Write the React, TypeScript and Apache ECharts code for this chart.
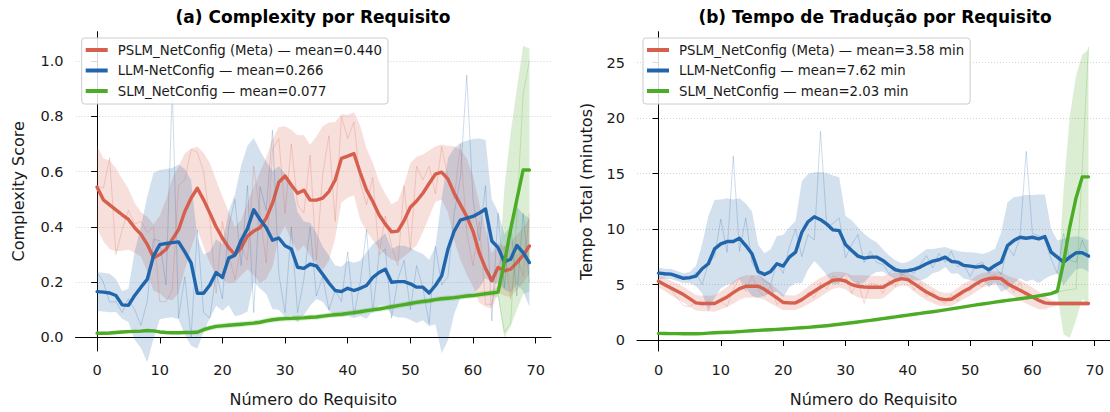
import React, { useEffect, useRef } from "react";
import * as echarts from "echarts";

// ---------- data ----------
const REQ_INDEX = [
  0, 1, 2, 3, 4, 5, 6, 7, 8, 9, 10, 11, 12, 13, 14, 15, 16, 17, 18, 19, 20, 21, 22, 23, 24, 25, 26, 27, 28, 29, 30, 31, 32, 33, 34,
  35, 36, 37, 38, 39, 40, 41, 42, 43, 44, 45, 46, 47, 48, 49, 50, 51, 52, 53, 54, 55, 56, 57, 58, 59, 60, 61, 62, 63, 64, 65, 66,
  67, 68, 69,
];
const X_TICKS = [0, 10, 20, 30, 40, 50, 60, 70];
const Y_TICKS_A = [0, 0.2, 0.4, 0.6, 0.8, 1.0];
const Y_TICKS_B = [0, 5, 10, 15, 20, 25];

const LEGEND_A = [
  "PSLM_NetConfig (Meta) — mean=0.440",
  "LLM-NetConfig — mean=0.266",
  "SLM_NetConfig — mean=0.077",
];
const LEGEND_B = [
  "PSLM_NetConfig (Meta) — mean=3.58 min",
  "LLM-NetConfig — mean=7.62 min",
  "SLM_NetConfig — mean=2.03 min",
];
const TITLE_A = "(a) Complexity por Requisito";
const TITLE_B = "(b) Tempo de Tradução por Requisito";
const XNAME = "Número do Requisito";
const YNAME_A = "Complexity Score";
const YNAME_B = "Tempo Total (minutos)";

// (a) Complexity — PSLM
const A_PSLM_RAW = [0.55,0.54,0.65,0.30,0.39,0.46,0.41,0.42,0.38,0.40,0.13,0.13,0.17,0.55,0.57,0.68,0.67,0.60,0.42,0.16,0.42,0.30,0.21,0.33,0.28,0.62,0.45,0.27,0.68,0.72,0.45,0.70,0.48,0.45,0.66,0.28,0.59,0.73,0.42,0.80,0.72,0.78,0.56,0.48,0.58,0.30,0.44,0.33,0.26,0.55,0.32,0.62,0.57,0.62,0.52,0.69,0.58,0.50,0.70,0.38,0.26,0.42,0.12,0.12,0.25,0.33,0.14,0.30,0.22,0.45];
const A_PSLM_MEAN = [0.544,0.498,0.48,0.462,0.444,0.427,0.397,0.373,0.337,0.289,0.30,0.319,0.355,0.39,0.456,0.504,0.54,0.498,0.45,0.40,0.36,0.325,0.30,0.325,0.367,0.385,0.397,0.432,0.486,0.562,0.584,0.552,0.522,0.533,0.497,0.497,0.504,0.528,0.57,0.648,0.656,0.665,0.596,0.534,0.492,0.444,0.41,0.382,0.385,0.423,0.471,0.494,0.522,0.557,0.591,0.598,0.573,0.522,0.48,0.438,0.384,0.306,0.25,0.205,0.253,0.241,0.247,0.271,0.297,0.331];
const A_PSLM_STD = [0.15,0.15,0.16,0.15,0.13,0.11,0.09,0.08,0.1,0.12,0.14,0.18,0.22,0.23,0.21,0.18,0.15,0.17,0.18,0.17,0.15,0.13,0.1,0.1,0.12,0.16,0.2,0.22,0.23,0.2,0.18,0.2,0.21,0.2,0.2,0.23,0.26,0.25,0.21,0.16,0.15,0.15,0.17,0.15,0.14,0.12,0.11,0.1,0.11,0.13,0.16,0.16,0.14,0.12,0.1,0.1,0.12,0.17,0.2,0.21,0.2,0.18,0.14,0.1,0.09,0.09,0.1,0.1,0.1,0.1];
// (a) Complexity — LLM
const A_LLM_RAW = [0.235,0.2,0.128,0.13,0.09,0.14,0.1,0.044,0.13,0.355,0.35,0.19,0.9,0.07,0.22,0.0,0.39,0.09,0.07,0.235,0.14,0.4,0.5,0.26,0.55,0.09,0.546,0.46,0.75,0.23,0.09,0.4,0.09,0.21,0.4,0.15,0.22,0.1,0.17,0.13,0.31,0.08,0.2,0.39,0.09,0.3,0.32,0.07,0.21,0.28,0.1,0.26,0.18,0.05,0.33,0.19,0.22,0.45,0.58,0.95,0.5,0.35,0.55,0.06,0.45,0.18,0.42,0.15,0.45,0.2];
const A_LLM_MEAN = [0.166,0.164,0.161,0.152,0.118,0.116,0.152,0.182,0.21,0.295,0.336,0.34,0.343,0.346,0.31,0.27,0.16,0.16,0.19,0.235,0.217,0.287,0.298,0.352,0.394,0.462,0.427,0.397,0.352,0.36,0.332,0.32,0.254,0.25,0.265,0.259,0.229,0.197,0.17,0.166,0.178,0.17,0.178,0.188,0.217,0.235,0.247,0.2,0.202,0.202,0.194,0.182,0.182,0.161,0.188,0.223,0.319,0.385,0.425,0.432,0.438,0.45,0.465,0.349,0.325,0.274,0.283,0.333,0.307,0.271];
const A_LLM_STD = [0.07,0.07,0.07,0.06,0.05,0.06,0.16,0.22,0.3,0.3,0.27,0.27,0.27,0.28,0.3,0.3,0.2,0.14,0.12,0.12,0.12,0.17,0.22,0.27,0.3,0.26,0.25,0.24,0.25,0.26,0.26,0.24,0.2,0.17,0.15,0.12,0.1,0.1,0.09,0.09,0.1,0.1,0.1,0.12,0.12,0.12,0.13,0.12,0.13,0.13,0.13,0.13,0.12,0.12,0.14,0.28,0.33,0.3,0.28,0.28,0.28,0.27,0.25,0.15,0.13,0.1,0.12,0.14,0.14,0.16];
// (a) Complexity — SLM
const A_SLM_RAW = [0.012,0.02,0.014,0.018,0.022,0.017,0.025,0.02,0.028,0.022,0.018,0.02,0.014,0.016,0.022,0.016,0.02,0.03,0.036,0.04,0.044,0.042,0.048,0.046,0.052,0.05,0.058,0.062,0.063,0.068,0.066,0.07,0.072,0.069,0.075,0.073,0.079,0.08,0.083,0.085,0.088,0.09,0.095,0.096,0.1,0.104,0.106,0.112,0.114,0.12,0.122,0.128,0.129,0.134,0.136,0.14,0.141,0.145,0.146,0.151,0.151,0.156,0.157,0.162,0.16,0.02,0.05,0.45,0.88,1.0];
const A_SLM_MEAN = [0.015,0.015,0.016,0.018,0.02,0.021,0.022,0.023,0.025,0.024,0.02,0.018,0.017,0.017,0.018,0.018,0.019,0.028,0.035,0.04,0.042,0.044,0.046,0.048,0.05,0.052,0.055,0.06,0.064,0.067,0.068,0.069,0.07,0.071,0.073,0.074,0.077,0.08,0.082,0.084,0.087,0.09,0.093,0.097,0.1,0.103,0.107,0.111,0.115,0.119,0.123,0.127,0.13,0.133,0.137,0.14,0.142,0.144,0.147,0.15,0.152,0.155,0.158,0.161,0.164,0.27,0.39,0.5,0.606,0.606];
const A_SLM_STD = [0.006,0.006,0.006,0.006,0.006,0.006,0.006,0.006,0.006,0.006,0.006,0.006,0.006,0.006,0.006,0.006,0.008,0.01,0.01,0.01,0.01,0.01,0.01,0.01,0.01,0.01,0.01,0.01,0.01,0.01,0.01,0.01,0.01,0.01,0.01,0.01,0.01,0.01,0.01,0.01,0.01,0.01,0.01,0.01,0.01,0.01,0.01,0.01,0.01,0.01,0.01,0.01,0.01,0.01,0.01,0.01,0.01,0.01,0.01,0.01,0.01,0.01,0.01,0.01,0.02,0.27,0.35,0.4,0.45,0.44];

// (b) Tempo — PSLM
const B_PSLM_RAW = [5.4,5.1,4.5,3.8,3.1,3.0,3.4,3.1,3.6,3.2,3.5,3.0,4.6,5.6,4.4,5.8,4.5,3.9,4.9,3.2,3.6,3.2,3.2,3.5,4.3,3.8,5.2,4.6,5.8,5.5,5.9,4.2,5.3,3.3,5.1,5.0,4.2,5.4,4.8,6.0,5.6,4.5,5.2,3.9,4.4,3.6,3.3,4.1,3.5,4.5,4.4,5.1,4.8,5.7,5.9,5.3,5.4,4.3,5.2,3.6,3.9,3.4,3.3,3.2,3.3,3.3,3.2,3.4,3.3,3.2];
const B_PSLM_MEAN = [5.29,4.99,4.69,4.39,4.09,3.73,3.35,3.29,3.29,3.29,3.58,3.88,4.27,4.63,4.84,4.84,4.84,4.57,4.18,3.79,3.38,3.35,3.35,3.64,4.03,4.39,4.75,5.08,5.38,5.44,5.32,4.99,4.84,4.78,4.75,4.75,4.75,5.08,5.38,5.53,5.44,5.08,4.69,4.33,4.03,3.73,3.64,3.67,4.03,4.39,4.69,5.08,5.38,5.53,5.59,5.53,5.08,4.78,4.48,4.18,3.88,3.58,3.35,3.29,3.29,3.29,3.29,3.29,3.29,3.29];
const B_PSLM_STD = [0.55,0.6,0.65,0.7,0.7,0.7,0.7,0.7,0.7,0.75,0.8,0.9,1.0,1.0,1.0,1.0,1.0,0.95,0.9,0.8,0.7,0.65,0.65,0.7,0.8,0.85,0.85,0.8,0.75,0.7,0.75,0.85,1.0,1.05,1.05,1.05,1.0,0.9,0.7,0.6,0.6,0.7,0.75,0.75,0.7,0.65,0.6,0.6,0.65,0.7,0.7,0.7,0.65,0.6,0.6,0.6,0.7,0.8,0.9,0.9,0.85,0.8,0.6,0.3,0.2,0.2,0.2,0.2,0.2,0.2];
// (b) Tempo — LLM
const B_LLM_RAW = [6.3,5.8,6.0,5.5,5.6,5.4,6.1,5.0,6.9,7.5,10.9,7.9,16.6,8.0,11.0,7.0,6.0,5.3,5.0,7.0,6.0,8.4,10.0,7.5,9.5,9.0,18.8,10.2,10.5,11.0,7.4,8.6,9.5,7.0,8.0,7.0,6.8,6.0,6.5,5.8,6.3,6.0,6.8,7.6,6.5,7.8,7.0,8.0,6.6,6.8,5.7,6.8,7.0,6.0,6.6,5.9,8.4,7.6,9.2,17.0,9.6,9.4,9.0,7.3,6.0,9.6,7.2,7.0,9.0,7.6];
const B_LLM_MEAN = [6.03,5.97,5.94,5.76,5.56,5.62,5.76,6.42,6.87,8.21,8.66,8.87,8.87,9.17,8.51,7.77,6.18,5.91,6.18,6.87,6.66,7.47,7.92,9.71,10.66,11.11,10.84,10.45,9.92,9.86,8.6,8.06,7.56,7.38,7.47,7.47,7.17,6.72,6.33,6.21,6.24,6.36,6.57,6.87,7.11,7.23,7.47,7.08,7.02,6.72,6.66,6.57,6.66,6.33,6.72,7.02,8.51,8.96,9.26,9.17,9.26,9.11,9.32,7.92,7.47,7.02,7.47,7.86,7.86,7.56];
const B_LLM_STD = [0.5,0.45,0.45,0.45,0.45,0.5,0.9,2.2,4.3,4.4,4.0,3.9,3.8,3.6,3.8,3.8,2.4,1.9,2.0,2.5,2.8,2.7,2.8,4.6,4.3,4.0,4.3,4.6,4.9,4.8,2.6,2.7,2.6,2.2,1.65,1.35,1.0,0.9,0.85,0.7,0.8,1.0,1.2,1.3,1.1,1.05,0.9,1.1,1.0,1.2,1.25,1.3,1.1,1.6,1.5,2.7,3.9,3.9,3.7,3.9,3.8,4.0,3.8,2.1,1.5,2.1,1.8,1.5,1.4,1.4];
// (b) Tempo — SLM
const B_SLM_RAW = [0.6,0.59,0.58,0.58,0.57,0.57,0.57,0.58,0.62,0.65,0.68,0.7,0.72,0.76,0.8,0.84,0.87,0.9,0.93,0.96,0.99,1.03,1.07,1.1,1.14,1.19,1.24,1.29,1.35,1.42,1.49,1.55,1.62,1.7,1.77,1.85,1.93,2.01,2.08,2.16,2.24,2.32,2.4,2.48,2.55,2.63,2.72,2.81,2.9,2.99,3.08,3.16,3.24,3.32,3.41,3.49,3.57,3.64,3.72,3.8,3.88,3.98,4.08,4.18,4.3,4.45,4.55,4.6,15.5,26.4];
const B_SLM_MEAN = [0.6,0.59,0.58,0.58,0.57,0.57,0.57,0.58,0.62,0.65,0.68,0.7,0.72,0.76,0.8,0.84,0.87,0.9,0.93,0.96,0.99,1.03,1.07,1.1,1.14,1.19,1.24,1.29,1.35,1.42,1.49,1.55,1.62,1.7,1.77,1.85,1.93,2.01,2.08,2.16,2.24,2.32,2.4,2.48,2.55,2.63,2.72,2.81,2.9,2.99,3.08,3.16,3.24,3.32,3.41,3.49,3.57,3.64,3.72,3.8,3.88,3.98,4.08,4.18,4.4,7.0,10.2,12.8,14.7,14.7];
const B_SLM_STD = [0.05,0.05,0.05,0.05,0.05,0.05,0.05,0.05,0.05,0.05,0.05,0.05,0.05,0.05,0.05,0.05,0.05,0.05,0.05,0.05,0.05,0.05,0.05,0.05,0.05,0.05,0.05,0.05,0.05,0.05,0.05,0.05,0.05,0.05,0.05,0.05,0.05,0.05,0.05,0.05,0.05,0.05,0.05,0.05,0.05,0.05,0.05,0.05,0.05,0.05,0.05,0.05,0.05,0.05,0.05,0.05,0.05,0.05,0.05,0.05,0.05,0.05,0.05,0.05,0.3,6.5,10.0,11.0,11.0,11.5];

const COLORS = ["#d6604d", "#2166ac", "#4dac26"];
const FONT = "DejaVu Sans";
const TEXT = "#1a1a1a";

// ---------- helpers ----------
function pairs(vals: number[]) {
  return REQ_INDEX.map((x, i) => [x, vals[i]]);
}

function modelSeries(axis: number, key: string, legendName: string, color: string, raw: number[], mean: number[], std: number[]) {
  return [
    {
      type: "line",
      name: `raw-${key}`,
      xAxisIndex: axis,
      yAxisIndex: axis,
      data: pairs(raw),
      showSymbol: false,
      silent: true,
      lineStyle: { color, width: 0.9, opacity: 0.26 },
      itemStyle: { color },
    },
    {
      type: "custom",
      name: `band-${key}`,
      xAxisIndex: axis,
      yAxisIndex: axis,
      silent: true,
      data: REQ_INDEX.map((x, i) => [x, mean[i] - std[i], mean[i] + std[i]]),
      encode: { x: 0, y: [1, 2] },
      renderItem: (params: any, api: any) => {
        if (params.dataIndex !== 0) return null;
        const pts: number[][] = [];
        for (let i = 0; i < REQ_INDEX.length; i++) pts.push(api.coord([REQ_INDEX[i], mean[i] + std[i]]));
        for (let i = REQ_INDEX.length - 1; i >= 0; i--) pts.push(api.coord([REQ_INDEX[i], mean[i] - std[i]]));
        return { type: "polygon", shape: { points: pts }, style: { fill: color, opacity: 0.2 } };
      },
    },
    {
      type: "line",
      name: legendName,
      xAxisIndex: axis,
      yAxisIndex: axis,
      data: pairs(mean),
      showSymbol: false,
      symbol: "none",
      lineStyle: { color, width: 3.4, join: "round", cap: "round" },
      itemStyle: { color },
    },
  ];
}

function xAxis(gridIndex: number) {
  return {
    type: "value",
    gridIndex,
    min: -3.45,
    max: 72.45,
    name: XNAME,
    nameLocation: "middle",
    nameGap: 40,
    nameTextStyle: { fontSize: 16, color: TEXT, fontFamily: FONT },
    axisLine: { show: true, lineStyle: { color: "#000", width: 1 } },
    axisTick: { show: true, length: 6, customValues: X_TICKS, lineStyle: { color: "#000", width: 1 } },
    axisLabel: { customValues: X_TICKS, fontSize: 14.5, color: TEXT, fontFamily: FONT, margin: 11 },
    splitLine: { show: false },
  };
}

function yAxis(gridIndex: number, min: number, max: number, ticks: number[], name: string, gap: number, fmt: (v: number) => string) {
  return {
    type: "value",
    gridIndex,
    min,
    max,
    name,
    nameLocation: "middle",
    nameRotate: 90,
    nameGap: gap,
    nameTextStyle: { fontSize: 16, color: TEXT, fontFamily: FONT },
    axisLine: { show: true, lineStyle: { color: "#000", width: 1 } },
    axisTick: { show: true, length: 6, customValues: ticks, lineStyle: { color: "#000", width: 1 } },
    axisLabel: { customValues: ticks, fontSize: 14.5, color: TEXT, fontFamily: FONT, margin: 12, formatter: fmt },
    splitLine: { show: true, lineStyle: { color: "#c8c8c8", width: 0.8, type: [1, 2] } },
  };
}

function legend(left: number, names: string[]) {
  return {
    data: names,
    left,
    top: 38,
    orient: "vertical",
    icon: "rect",
    itemWidth: 22,
    itemHeight: 4,
    itemGap: 4.5,
    padding: [4, 6, 5, 4],
    backgroundColor: "rgba(255,255,255,0.85)",
    borderColor: "#cccccc",
    borderWidth: 1,
    borderRadius: 3,
    selectedMode: false,
    textStyle: { fontSize: 13.3, fontFamily: FONT, color: TEXT, lineHeight: 16, padding: [0, 0, 0, 5] },
  };
}

export default function App() {
  const ref = useRef<HTMLDivElement>(null);
  useEffect(() => {
    document.body.style.margin = "0";
    if (!ref.current) return;
    const chart = echarts.init(ref.current, undefined, { renderer: "svg" });
    const series = [
      ...modelSeries(0, "a0", LEGEND_A[0], COLORS[0], A_PSLM_RAW, A_PSLM_MEAN, A_PSLM_STD),
      ...modelSeries(0, "a1", LEGEND_A[1], COLORS[1], A_LLM_RAW, A_LLM_MEAN, A_LLM_STD),
      ...modelSeries(0, "a2", LEGEND_A[2], COLORS[2], A_SLM_RAW, A_SLM_MEAN, A_SLM_STD),
      ...modelSeries(1, "b0", LEGEND_B[0], COLORS[0], B_PSLM_RAW, B_PSLM_MEAN, B_PSLM_STD),
      ...modelSeries(1, "b1", LEGEND_B[1], COLORS[1], B_LLM_RAW, B_LLM_MEAN, B_LLM_STD),
      ...modelSeries(1, "b2", LEGEND_B[2], COLORS[2], B_SLM_RAW, B_SLM_MEAN, B_SLM_STD),
    ];
    chart.setOption({
      animation: false,
      backgroundColor: "#ffffff",
      grid: [
        { left: 75.5, top: 31.7, width: 475.5, height: 321, containLabel: false },
        { left: 637, top: 31.7, width: 476, height: 321, containLabel: false },
      ],
      xAxis: [xAxis(0), xAxis(1)],
      yAxis: [
        yAxis(0, -0.049, 1.1065, Y_TICKS_A, YNAME_A, 49.5, (v: number) => v.toFixed(1)),
        yAxis(1, -0.99, 27.78, Y_TICKS_B, YNAME_B, 43, (v: number) => String(Math.round(v))),
      ],
      legend: [legend(81.7, LEGEND_A), legend(643, LEGEND_B)],
      graphic: [
        { type: "text", x: 313, y: 16.5, style: { text: TITLE_A, align: "center", verticalAlign: "middle", fill: "#000", font: `bold 17px "${FONT}"` } },
        { type: "text", x: 875, y: 16.5, style: { text: TITLE_B, align: "center", verticalAlign: "middle", fill: "#000", font: `bold 17px "${FONT}"` } },
      ],
      series,
    });
    return () => chart.dispose();
  }, []);
  return <div ref={ref} style={{ width: 1110, height: 412 }} />;
}
